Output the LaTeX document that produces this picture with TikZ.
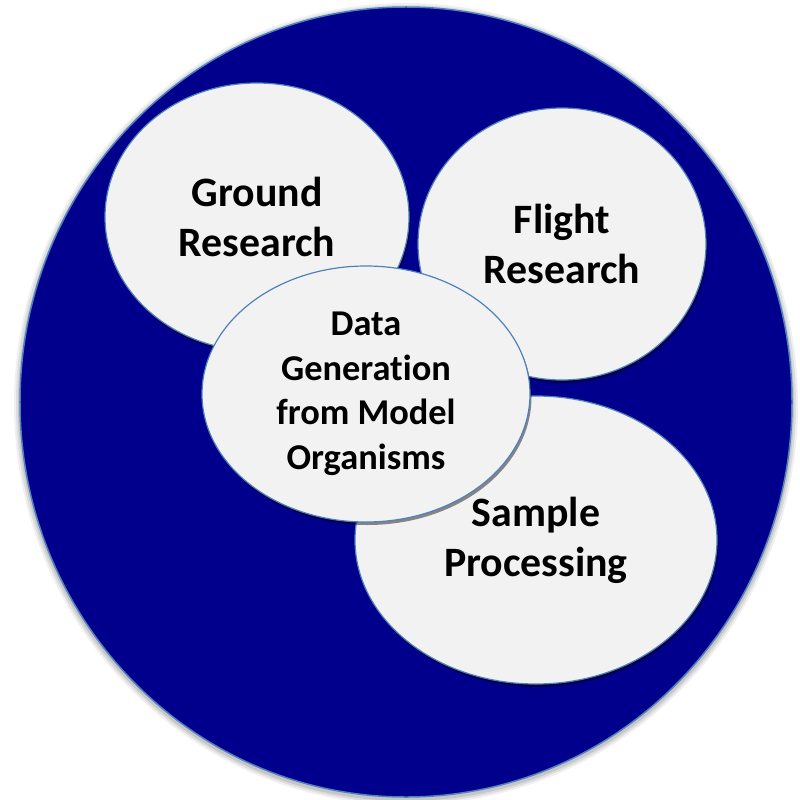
\documentclass[tikz,border=0pt]{standalone}
\usepackage{fontspec}
\setmainfont{Carlito}[Ligatures=NoCommon]
\usetikzlibrary{shapes.geometric,shadows}
\definecolor{navyfill}{RGB}{0,0,140}
\definecolor{rimblue}{RGB}{79,129,189}
\definecolor{bubblefill}{RGB}{242,242,242}
\tikzset{
  bubble/.style={ellipse, inner sep=0pt, outer sep=0pt, fill=bubblefill,
    draw=rimblue, line width=1.2bp, align=center, text=black,
    font=\bfseries\fontsize{42}{50}\selectfont,
    drop shadow={shadow xshift=1.5bp, shadow yshift=-3bp, opacity=0.45, fill=black}},
  smallbubble/.style={bubble, font=\bfseries\fontsize{36.5}{44.7}\selectfont},
  ring/.style={ellipse, inner sep=0pt, outer sep=0pt, fill=navyfill,
    draw=rimblue, line width=1.5bp}
}
\begin{document}
\begin{tikzpicture}[x=1bp,y=-1bp]
  \useasboundingbox (0,0) rectangle (800,800);
  % soft grey halo under the outer disc
  \foreach \g/\o in {6/0.06,4/0.08,2/0.10}{
    \fill[black,opacity=\o] (406,404) ellipse ({386+\g} and {395+\g});
  }
  \node[ring, minimum width=772bp, minimum height=790bp] (outer) at (406,402) {};
  % topic bubbles
  \node[bubble, minimum width=304bp, minimum height=268bp] (ground) at (257,217) {Ground\\Research};
  \node[bubble, minimum width=288bp, minimum height=272bp] (flight) at (562,244) {Flight\\Research};
  \node[bubble, minimum width=362bp, minimum height=288bp] (sample) at (536,540) {Sample\\Processing};
  \node[smallbubble, minimum width=328bp, minimum height=256bp] (data) at (366,394) {Data\\Generation\\from Model\\Organisms};
\end{tikzpicture}
\end{document}
